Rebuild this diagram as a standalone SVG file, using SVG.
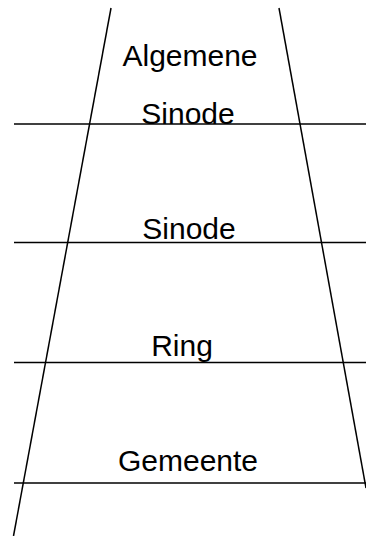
<svg xmlns="http://www.w3.org/2000/svg" width="366" height="536" viewBox="0 0 366 536">
<style>
.ln{stroke:#000;stroke-width:1.5;fill:none}
.lbl{font-family:"Liberation Sans",Arial,sans-serif;font-size:30px;fill:#000;text-anchor:middle}
</style>
<rect width="366" height="536" fill="#fff"/>
<g id="connectors">
<line class="ln" x1="111" y1="8" x2="13.5" y2="536"/>
<line class="ln" x1="279" y1="8" x2="366" y2="488"/>
<line class="ln" x1="14" y1="124" x2="366" y2="124"/>
<line class="ln" x1="14" y1="242.5" x2="366" y2="242.5"/>
<line class="ln" x1="14" y1="362.5" x2="366" y2="362.5"/>
<line class="ln" x1="14" y1="483" x2="366" y2="483"/>
</g>
<g id="algemene-sinode"><text class="lbl" x="190" y="66">Algemene</text><text class="lbl" x="188" y="124">Sinode</text></g>
<g id="sinode"><text class="lbl" x="189" y="239">Sinode</text></g>
<g id="ring"><text class="lbl" x="182" y="356">Ring</text></g>
<g id="gemeente"><text class="lbl" x="188" y="471">Gemeente</text></g>
</svg>
